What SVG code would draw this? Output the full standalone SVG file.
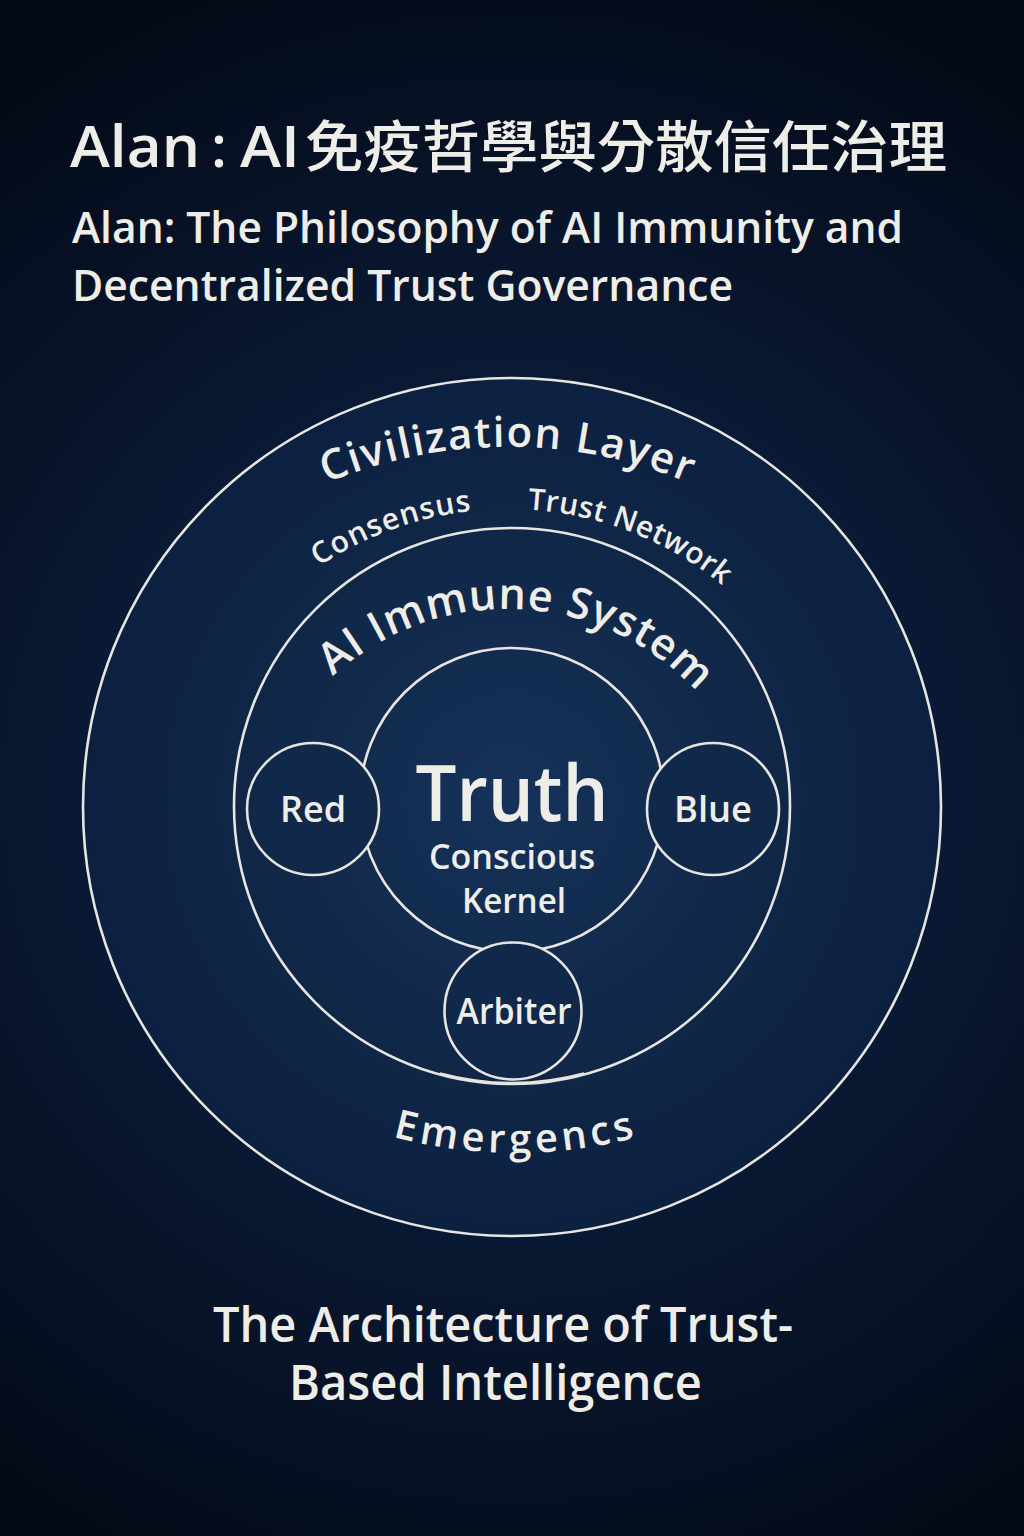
<svg xmlns="http://www.w3.org/2000/svg" width="1024" height="1536" viewBox="0 0 1024 1536">
  <defs>
    <radialGradient id="bgGlow" cx="512" cy="790" r="900" gradientUnits="userSpaceOnUse">
      <stop offset="0" stop-color="#12294c"/>
      <stop offset="0.45" stop-color="#0a1a35"/>
      <stop offset="1" stop-color="#030915"/>
    </radialGradient>
    <radialGradient id="discGlow" cx="512" cy="800" r="430" gradientUnits="userSpaceOnUse">
      <stop offset="0" stop-color="#16325a"/>
      <stop offset="0.55" stop-color="#102849"/>
      <stop offset="1" stop-color="#0c2040"/>
    </radialGradient>
    <!-- baselines for the curved labels -->
    <path id="arcCivilization" d="M 100 682.5 A 471 471 0 0 1 916 682.5"/>
    <path id="arcTrust" d="M 174.15 789.13 A 339 339 0 0 1 841.85 789.13"/>
    <path id="arcImmune" d="M 251.93 823.02 A 259 259 0 0 1 762.07 823.02"/>
    <path id="arcEmergence" d="M 212 1042.3 A 473 473 0 0 0 820 1042.3"/>
    <style>
      .ring { fill: none; stroke: #e7e5df; stroke-width: 2.6; }
      .node { fill: #102849; stroke: #e7e5df; stroke-width: 2.6; }
      .txt { fill: #eeede8; font-family: "Open Sans", "Noto Sans", sans-serif; }
      .cjk { font-family: "Noto Sans CJK TC", "Noto Sans CJK SC", sans-serif; }
      .title { font-weight: 600; }
      .arc { font-weight: 600; text-anchor: middle; }
      .label { font-weight: 600; text-anchor: middle; }
    </style>
  </defs>

  <rect width="1024" height="1536" fill="url(#bgGlow)"/>

  <!-- headings -->
  <g id="heading">
    <text class="txt title" y="167" font-size="58"><tspan x="70" textLength="130" lengthAdjust="spacingAndGlyphs">Alan</tspan><tspan x="211">:</tspan><tspan x="240" textLength="60" lengthAdjust="spacingAndGlyphs">AI</tspan><tspan class="cjk" x="305" font-size="56" font-weight="500" textLength="642" lengthAdjust="spacingAndGlyphs">免疫哲學與分散信任治理</tspan></text>
    <text class="txt title" x="72" y="243" font-size="44" textLength="831" lengthAdjust="spacingAndGlyphs">Alan: The Philosophy of AI Immunity and</text>
    <text class="txt title" x="72" y="301" font-size="44" textLength="661" lengthAdjust="spacingAndGlyphs">Decentralized Trust Governance</text>
  </g>

  <!-- outer ring: civilization layer -->
  <g id="civilization-layer">
    <circle cx="512" cy="807" r="429" fill="url(#discGlow)" stroke="#e7e5df" stroke-width="2.6"/>
    <text class="txt arc" font-size="42" letter-spacing="1.6"><textPath href="#arcCivilization" startOffset="50%">Civilization Layer</textPath></text>
    <text class="txt arc" font-size="30" letter-spacing="1"><textPath href="#arcTrust" startOffset="37.5%">Consensus</textPath></text>
    <text class="txt arc" font-size="30" letter-spacing="0.3"><textPath href="#arcTrust" startOffset="63.3%">Trust Network</textPath></text>
    <text class="txt arc" font-size="40" letter-spacing="4.3"><textPath href="#arcEmergence" startOffset="50%">Emergencs</textPath></text>
  </g>

  <!-- middle ring: immune system -->
  <g id="immune-system">
    <circle class="ring" cx="512" cy="806" r="278"/>
    <text class="txt arc" font-size="43" letter-spacing="1"><textPath href="#arcImmune" startOffset="51.6%">AI Immune System</textPath></text>
  </g>

  <!-- core -->
  <g id="truth-kernel">
    <circle class="ring" cx="512" cy="800" r="152"/>
    <text class="txt label" x="512" y="821" font-size="78" font-weight="700" textLength="193" lengthAdjust="spacingAndGlyphs">Truth</text>
    <text class="txt label" x="512" y="869" font-size="34" textLength="166" lengthAdjust="spacingAndGlyphs">Conscious</text>
    <text class="txt label" x="514" y="913" font-size="34" textLength="104" lengthAdjust="spacingAndGlyphs">Kernel</text>
  </g>

  <g id="red">
    <circle class="node" cx="313" cy="809" r="66"/>
    <text class="txt label" x="313" y="822" font-size="36" textLength="66" lengthAdjust="spacingAndGlyphs">Red</text>
  </g>

  <g id="blue">
    <circle class="node" cx="713" cy="809" r="66"/>
    <text class="txt label" x="713" y="822" font-size="36" textLength="78" lengthAdjust="spacingAndGlyphs">Blue</text>
  </g>

  <g id="arbiter">
    <circle class="node" cx="513" cy="1011" r="68.5"/>
    <text class="txt label" x="514" y="1024" font-size="36" textLength="115" lengthAdjust="spacingAndGlyphs">Arbiter</text>
  </g>

  <!-- lower edge of the immune ring runs across the arbiter -->
  <path class="ring" d="M 440 1073.5 A 278 278 0 0 0 584 1073.5"/>

  <g id="connectors"/>

  <!-- footer -->
  <g id="footer">
    <text class="txt title" x="213" y="1342" font-size="48" textLength="580" lengthAdjust="spacingAndGlyphs">The Architecture of Trust-</text>
    <text class="txt title" x="289" y="1400" font-size="48" textLength="413" lengthAdjust="spacingAndGlyphs">Based Intelligence</text>
  </g>
</svg>
